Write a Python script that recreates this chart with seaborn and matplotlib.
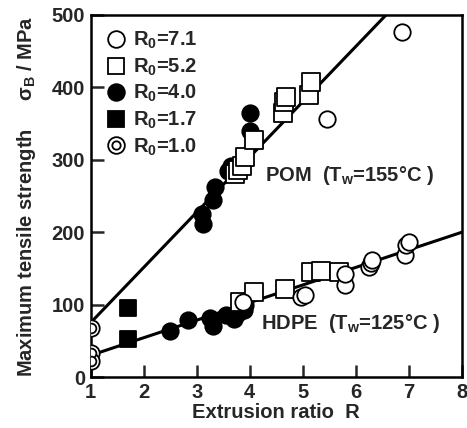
import matplotlib
matplotlib.use("Agg")
import matplotlib.pyplot as plt
import seaborn as sns
from matplotlib.lines import Line2D

# ---- data ----
r71_x = [5.45, 6.88, 3.88, 4.97, 5.05, 5.79, 5.80, 6.25, 6.28, 6.30, 6.93, 6.95, 7.00]
r71_y = [357, 476, 103, 111, 113, 127, 143, 152, 158, 162, 168, 182, 186]

r52_x = [3.72, 3.78, 3.85, 3.92, 4.08, 4.62, 4.65, 4.68, 5.12, 5.15,
         3.82, 4.09, 4.66, 5.16, 5.35, 5.69]
r52_y = [280, 286, 292, 304, 328, 364, 380, 387, 390, 408,
         104, 118, 122, 145, 147, 145]

r40_x = [3.10, 3.12, 3.30, 3.35, 3.60, 3.65, 4.00, 4.00,
         2.49, 2.84, 3.25, 3.30, 3.56, 3.70, 3.78, 3.90, 3.92]
r40_y = [225, 212, 245, 262, 285, 292, 340, 365,
         63, 79, 81, 70, 86, 80, 88, 92, 100]

r17_x = [1.7, 1.7]
r17_y = [95, 53]

r10_x = [1.0, 1.0, 1.0]
r10_y = [68, 33, 22]

pom_line_x = [1.0, 6.57]
pom_line_y = [75, 500]
hdpe_line_x = [1.0, 8.0]
hdpe_line_y = [30, 200]

x_ticks = [1, 2, 3, 4, 5, 6, 7, 8]
y_ticks = [0, 100, 200, 300, 400, 500]

legend_labels = ["R$_0$=7.1", "R$_0$=5.2", "R$_0$=4.0", "R$_0$=1.7", "R$_0$=1.0"]

sns.set_theme(style="white")
plt.rcParams['font.family'] = ['Liberation Sans', 'DejaVu Sans']
plt.rcParams['font.weight'] = 'bold'
plt.rcParams['mathtext.fontset'] = 'custom'
plt.rcParams['mathtext.rm'] = 'Liberation Sans:bold'
plt.rcParams['mathtext.it'] = 'Liberation Sans:bold'
plt.rcParams['mathtext.bf'] = 'Liberation Sans:bold'
plt.rcParams['mathtext.default'] = 'rm'

FS = 14.5

fig = plt.figure(figsize=(4.67, 4.28), dpi=100)
ax = fig.add_axes([0.194, 0.119, 0.795, 0.846])

sns.lineplot(x=pom_line_x, y=pom_line_y, ax=ax, color='black', lw=2.2, zorder=2)
sns.lineplot(x=hdpe_line_x, y=hdpe_line_y, ax=ax, color='black', lw=2.2, zorder=2)

ms = 140
ew = 1.3
sns.scatterplot(x=r40_x, y=r40_y, ax=ax, marker='o', s=ms, color='black',
                edgecolor='black', linewidth=ew, zorder=3)
sns.scatterplot(x=r17_x, y=r17_y, ax=ax, marker='s', s=ms, color='black',
                edgecolor='black', linewidth=ew, zorder=3)
sns.scatterplot(x=r52_x, y=r52_y, ax=ax, marker='s', s=ms + 20, color='white',
                edgecolor='black', linewidth=ew, zorder=4)
sns.scatterplot(x=r71_x, y=r71_y, ax=ax, marker='o', s=ms, color='white',
                edgecolor='black', linewidth=ew, zorder=4)
sns.scatterplot(x=r10_x, y=r10_y, ax=ax, marker='o', s=ms, color='white',
                edgecolor='black', linewidth=ew, zorder=5)
sns.scatterplot(x=r10_x, y=r10_y, ax=ax, marker='o', s=ms * 0.35, color='white',
                edgecolor='black', linewidth=ew, zorder=6)

ax.set_xlim(1, 8)
ax.set_ylim(0, 500)
ax.set_xticks(x_ticks)
ax.set_yticks(y_ticks)
ax.tick_params(direction='in', length=9, width=1.8, labelsize=FS, pad=4,
               bottom=True, left=True, top=False, right=False)
for lab in ax.get_xticklabels() + ax.get_yticklabels():
    lab.set_fontweight('bold')
for sp in ax.spines.values():
    sp.set_linewidth(1.8)
    sp.set_color('black')

ax.set_xlabel("Extrusion ratio  R", fontsize=FS, fontweight='bold', labelpad=1)
ax.set_ylabel("Maximum tensile strength     σ$_B$ / MPa", fontsize=FS,
              fontweight='bold', labelpad=10)

ax.text(4.28, 279, "POM  (T$_w$=155°C )", fontsize=FS, fontweight='bold',
        va='center', ha='left')
ax.text(4.22, 74, "HDPE  (T$_w$=125°C )", fontsize=FS, fontweight='bold',
        va='center', ha='left')

mk = dict(markeredgecolor='black', markeredgewidth=ew, markersize=12, linestyle='none')
h71 = Line2D([], [], marker='o', markerfacecolor='white', **mk)
h52 = Line2D([], [], marker='s', markerfacecolor='white', **mk)
h40 = Line2D([], [], marker='o', markerfacecolor='black', **mk)
h17 = Line2D([], [], marker='s', markerfacecolor='black', **mk)
h10a = Line2D([], [], marker='o', markerfacecolor='white', **mk)
h10b = Line2D([], [], marker='o', markerfacecolor='white', markeredgecolor='black',
              markeredgewidth=ew, markersize=6, linestyle='none')
leg = ax.legend([h71, h52, h40, h17, (h10a, h10b)], legend_labels,
                loc='upper left', frameon=False, fontsize=FS, handlelength=1.0,
                handletextpad=0.35, labelspacing=0.26, borderaxespad=0.55,
                borderpad=0.2)

fig.savefig("out.png", dpi=100)
